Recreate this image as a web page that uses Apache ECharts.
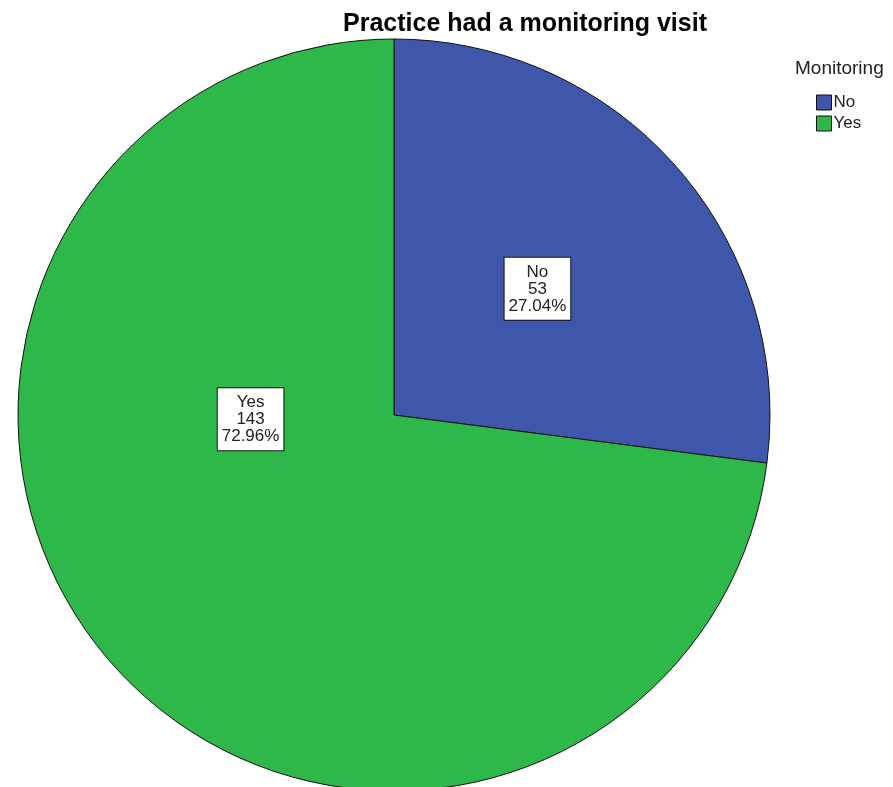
<!DOCTYPE html>
<html>
<head>
<meta charset="utf-8">
<script src="https://cdn.jsdelivr.net/npm/echarts@6/dist/echarts.min.js"></script>
<style>
  html, body { margin: 0; padding: 0; background: #fff; }
  #chart { width: 893px; height: 787px; }
</style>
</head>
<body>
<div id="chart"></div>
<script>
// chart values
const categories = ["No", "Yes"];
const counts = [53, 143];
const sliceColors = ["#3e57ab", "#2fb84a"];

const chartDom = document.getElementById("chart");
const myChart = echarts.init(chartDom);

const labelBox = {
  show: true,
  position: "inside",
  formatter: "{b}\n{c}\n{d}%",
  fontFamily: "Liberation Sans, Arial, sans-serif",
  fontSize: 17,
  lineHeight: 17,
  color: "#222",
  backgroundColor: "#fff",
  borderColor: "#111",
  borderWidth: 1,
  padding: [6, 4, 5, 4],
  align: "center",
};

const option = {
  animation: false,
  title: [
    {
      text: "Practice had a monitoring visit",
      left: 520,
      top: 7,
      textAlign: "center",
      textStyle: {
        fontFamily: "Liberation Sans, Arial, sans-serif",
        fontSize: 25,
        fontWeight: "bold",
        color: "#000",
      },
    },
    {
      text: "Monitoring",
      left: 790,
      top: 54,
      textStyle: {
        fontFamily: "Liberation Sans, Arial, sans-serif",
        fontSize: 19,
        fontWeight: "normal",
        color: "#222",
      },
    },
  ],
  legend: {
    orient: "vertical",
    left: 811,
    top: 89,
    itemWidth: 15,
    itemHeight: 15,
    itemGap: 4,
    icon: "rect",
    data: categories,
    itemStyle: { borderColor: "#111", borderWidth: 1 },
    textStyle: {
      fontFamily: "Liberation Sans, Arial, sans-serif",
      fontSize: 17,
      color: "#222",
      padding: [0, 0, 0, -3],
    },
  },
  series: [
    {
      type: "pie",
      center: [394, 415],
      radius: 376,
      startAngle: 90,
      clockwise: true,
      percentPrecision: 2,
      itemStyle: { borderColor: "#111", borderWidth: 1 },
      emphasis: { disabled: true },
      label: labelBox,
      labelLine: { show: false },
      data: categories.map((name, i) => ({
        name: name,
        value: counts[i],
        itemStyle: { color: sliceColors[i] },
        label: i === 1 ? { offset: [0, -122] } : {},
      })),
    },
  ],
};

myChart.setOption(option);
window.addEventListener("resize", () => myChart.resize());
</script>
</body>
</html>
